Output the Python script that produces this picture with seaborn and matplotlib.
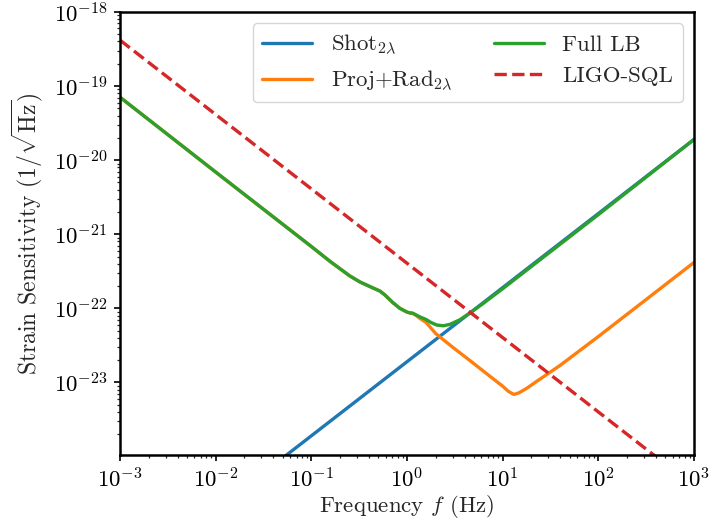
import numpy as np
import pandas as pd
import seaborn as sns
import matplotlib
matplotlib.use("Agg")
import matplotlib.pyplot as plt

# ---- data (log10 of frequency in Hz and of strain) ----
shot_logf = [-1.5, 3.0]
shot_logh = [-24.22, -19.72]

projrad_logf = [-3.0, -2.0, -1.0, -0.8, -0.6, -0.49, -0.38, -0.283, -0.23,
                -0.15, -0.074, 0.0, 0.03, 0.06, 0.09, 0.135, 0.2, 0.24, 0.3, 0.48,
                0.657, 0.9, 1.0, 1.06, 1.117, 1.17, 1.25, 1.35, 1.6, 2.0, 3.0]
projrad_logh = [-19.15, -20.16, -21.165, -21.37, -21.56, -21.645, -21.71, -21.766,
                -21.82, -21.92, -22.0, -22.05, -22.062, -22.068, -22.09, -22.135, -22.19,
                -22.25, -22.34, -22.527, -22.703, -22.95, -23.05, -23.12, -23.162, -23.14,
                -23.08, -22.99, -22.77, -22.38, -21.38]

full_logf = [-3.0, -2.0, -1.0, -0.8, -0.6, -0.49, -0.38, -0.283, -0.23,
             -0.15, -0.074, 0.0, 0.03, 0.06, 0.09, 0.135, 0.2, 0.25, 0.312, 0.38, 0.45,
             0.55, 0.65, 0.8, 1.0, 1.5, 2.0, 3.0]
full_logh = [-19.15, -20.16, -21.165, -21.37, -21.56, -21.645, -21.71, -21.766,
             -21.82, -21.92, -22.0, -22.05, -22.06, -22.065, -22.085, -22.115, -22.15,
             -22.19, -22.225, -22.235, -22.215, -22.155, -22.07, -21.93, -21.735,
             -21.235, -20.735, -19.72]

sql_logf = [-3.0, 2.7]
sql_logh = [-18.38, -24.1]

labels = [r"Shot$_{2\lambda}$", r"Proj+Rad$_{2\lambda}$", "Full LB", "LIGO-SQL"]
colors = ["#1f77b4", "#ff7f0e", "#2ca02c", "#d62728"]

# ---- style ----
sns.set_style("ticks")
plt.rcParams["font.family"] = ["serif"]
plt.rcParams["font.serif"] = ["cmr10", "DejaVu Serif"]
plt.rcParams["mathtext.fontset"] = "cm"
plt.rcParams["axes.formatter.use_mathtext"] = True
plt.rcParams["axes.unicode_minus"] = True

fig = plt.figure(figsize=(7.12, 5.27), dpi=100)
ax = fig.add_axes([120/712, 1-455/527, (694-120)/712, (455-12)/527])

series = [(shot_logf, shot_logh, "-"), (projrad_logf, projrad_logh, "-"),
          (full_logf, full_logh, "-"), (sql_logf, sql_logh, "--")]
for (lf, lh, ls), lab, col in zip(series, labels, colors):
    df = pd.DataFrame({"f": np.power(10.0, lf), "h": np.power(10.0, lh)})
    sns.lineplot(data=df, x="f", y="h", ax=ax, color=col, lw=2.4, linestyle=ls,
                 label=lab, sort=False)

ax.set_xscale("log")
ax.set_yscale("log")
ax.set_xlim(1e-3, 1e3)
ax.set_ylim(1.05e-24, 1e-18)
ax.set_xticks([1e-3, 1e-2, 1e-1, 1e0, 1e1, 1e2, 1e3])
ax.set_yticks([1e-23, 1e-22, 1e-21, 1e-20, 1e-19, 1e-18])
ax.yaxis.set_minor_locator(matplotlib.ticker.LogLocator(base=10, subs=np.arange(2, 10), numticks=20))
ax.xaxis.set_minor_locator(matplotlib.ticker.LogLocator(base=10, subs=np.arange(2, 10), numticks=20))
ax.yaxis.set_minor_formatter(matplotlib.ticker.NullFormatter())
ax.xaxis.set_minor_formatter(matplotlib.ticker.NullFormatter())

for sp in ax.spines.values():
    sp.set_linewidth(1.8)
    sp.set_color("black")
ax.tick_params(which="major", direction="out", length=4, width=1.2, labelsize=16.5,
               colors="black", pad=5)
ax.tick_params(which="minor", direction="out", length=2.2, width=0.9)

ax.set_xlabel(r"Frequency $f$ (Hz)", fontsize=16.5, labelpad=1)
ax.set_ylabel(r"Strain Sensitivity $(1/\sqrt{\mathrm{Hz}})$", fontsize=17, labelpad=6)

leg = ax.legend(loc="upper right", ncol=2, fontsize=16.5, frameon=True, fancybox=True,
                handlelength=2.2, columnspacing=1.8)
leg.get_frame().set_edgecolor("#cccccc")
leg.get_frame().set_linewidth(1.0)

fig.savefig("out.png", dpi=100)
